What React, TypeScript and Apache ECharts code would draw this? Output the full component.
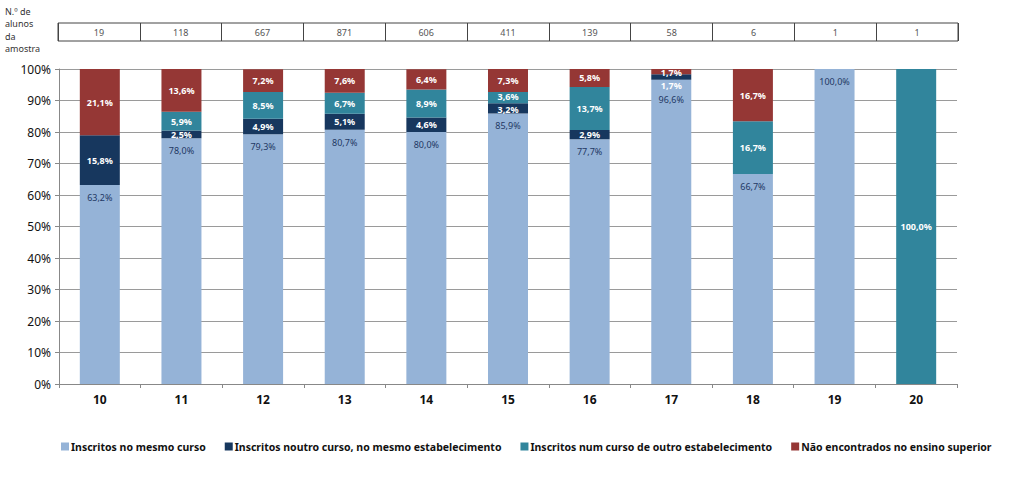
import React, { useEffect, useRef } from "react";
import * as echarts from "echarts";

const categories = ["10", "11", "12", "13", "14", "15", "16", "17", "18", "19", "20"];
const sampleSizes = ["19", "118", "667", "871", "606", "411", "139", "58", "6", "1", "1"];
const mesmoCurso = [63.2, 78.0, 79.3, 80.7, 80.0, 85.9, 77.7, 96.6, 66.7, 100.0, 0];
const noutroCurso = [15.8, 2.5, 4.9, 5.1, 4.6, 3.2, 2.9, 1.7, 0, 0, 0];
const outroEstab = [0, 5.9, 8.5, 6.7, 8.9, 3.6, 13.7, 0, 16.7, 0, 100.0];
const naoEncontrados = [21.1, 13.6, 7.2, 7.6, 6.4, 7.3, 5.8, 1.7, 16.7, 0, 0];
const seriesNames = [
  "Inscritos no mesmo curso",
  "Inscritos noutro curso, no mesmo estabelecimento",
  "Inscritos num curso de outro estabelecimento",
  "Não encontrados no ensino superior",
];
const yTicks = [0, 10, 20, 30, 40, 50, 60, 70, 80, 90, 100];

const COLORS = ["#95B3D7", "#17375E", "#31859C", "#953735"];
const FONT = "'Noto Sans', 'DejaVu Sans', sans-serif";

const fmt = (v: number) => v.toFixed(1).replace(".", ",") + "%";

export default function App() {
  const ref = useRef<HTMLDivElement>(null);
  useEffect(() => {
    if (!ref.current) return;
    const chart = echarts.init(ref.current, undefined, { renderer: "svg" });
    const labelFmt = (p: any) => (p.value ? fmt(p.value) : "");
    const whiteLabel = {
      show: true,
      position: "inside",
      color: "#fff",
      fontWeight: "bold",
      fontSize: 9,
      fontFamily: FONT,
      formatter: labelFmt,
    };
    const mk = (arr: number[], offsets: Record<number, number[]> = {}) =>
      arr.map((v, i) =>
        offsets[i] ? { value: v, label: { offset: offsets[i] } } : v
      );
    const option: any = {
      animation: false,
      backgroundColor: "#fff",
      textStyle: { fontFamily: FONT },
      graphic: [
        {
          type: "text",
          left: 5,
          top: 5,
          style: {
            text: "N.º de\nalunos\nda\namostra",
            fontSize: 9,
            lineHeight: 12.5,
            fill: "#333",
            fontFamily: FONT,
          },
        },
      ],
      legend: {
        bottom: 21,
        left: 56,
        itemWidth: 8,
        itemHeight: 8,
        itemGap: 19,
        icon: "rect",
        textStyle: { fontSize: 10.5, fontWeight: "bold", color: "#111", fontFamily: FONT, padding: [0, 0, 0, -3] },
        data: seriesNames,
      },
      grid: [
        { left: 59, right: 67, top: 69, bottom: 94 },
        { left: 58, right: 66, top: 23, height: 18, show: true, borderColor: "#444", borderWidth: 1 },
      ],
      xAxis: [
        {
          type: "category",
          data: categories,
          gridIndex: 0,
          axisLine: { lineStyle: { color: "#888" } },
          axisTick: { show: true, length: 4, lineStyle: { color: "#888" } },
          axisLabel: { fontSize: 12, fontWeight: "bold", color: "#111", margin: 9 },
        },
        {
          type: "category",
          data: sampleSizes,
          gridIndex: 1,
          axisLine: { show: false },
          axisTick: { show: false },
          splitLine: { show: true, lineStyle: { color: "#444", width: 1 } },
          axisLabel: { inside: true, fontSize: 9, color: "#555", margin: 4 },
        },
      ],
      yAxis: [
        {
          type: "value",
          gridIndex: 0,
          min: yTicks[0],
          max: yTicks[yTicks.length - 1],
          interval: 10,
          axisLine: { show: true, lineStyle: { color: "#888" } },
          axisTick: { show: true, length: 4, lineStyle: { color: "#888" } },
          splitLine: { lineStyle: { color: "#9a9a9a", width: 1 } },
          axisLabel: { formatter: "{value}%", fontSize: 12, color: "#111", margin: 8 },
        },
        { type: "value", gridIndex: 1, show: false },
      ],
      series: [
        {
          name: seriesNames[0],
          type: "bar",
          stack: "t",
          barWidth: 40,
          itemStyle: { color: COLORS[0] },
          label: {
            show: true,
            position: "insideTop",
            distance: 8,
            color: "#1F3864",
            fontSize: 9,
            fontFamily: FONT,
            formatter: labelFmt,
          },
          data: mk(mesmoCurso, { 7: [0, 7] }),
        },
        {
          name: seriesNames[1],
          type: "bar",
          stack: "t",
          barWidth: 40,
          itemStyle: { color: COLORS[1] },
          label: whiteLabel,
          data: mk(noutroCurso, { 5: [0, 1.5], 7: [0, 8] }),
        },
        {
          name: seriesNames[2],
          type: "bar",
          stack: "t",
          barWidth: 40,
          itemStyle: { color: COLORS[2] },
          label: whiteLabel,
          data: mk(outroEstab, { 5: [0, -1] }),
        },
        {
          name: seriesNames[3],
          type: "bar",
          stack: "t",
          barWidth: 40,
          itemStyle: { color: COLORS[3] },
          label: whiteLabel,
          data: mk(naoEncontrados, { 7: [0, 1] }),
        },
      ],
    };
    chart.setOption(option);
    return () => chart.dispose();
  }, []);
  return (
    <div
      ref={ref}
      style={{ position: "fixed", left: 0, top: 0, width: 1024, height: 478 }}
    />
  );
}
